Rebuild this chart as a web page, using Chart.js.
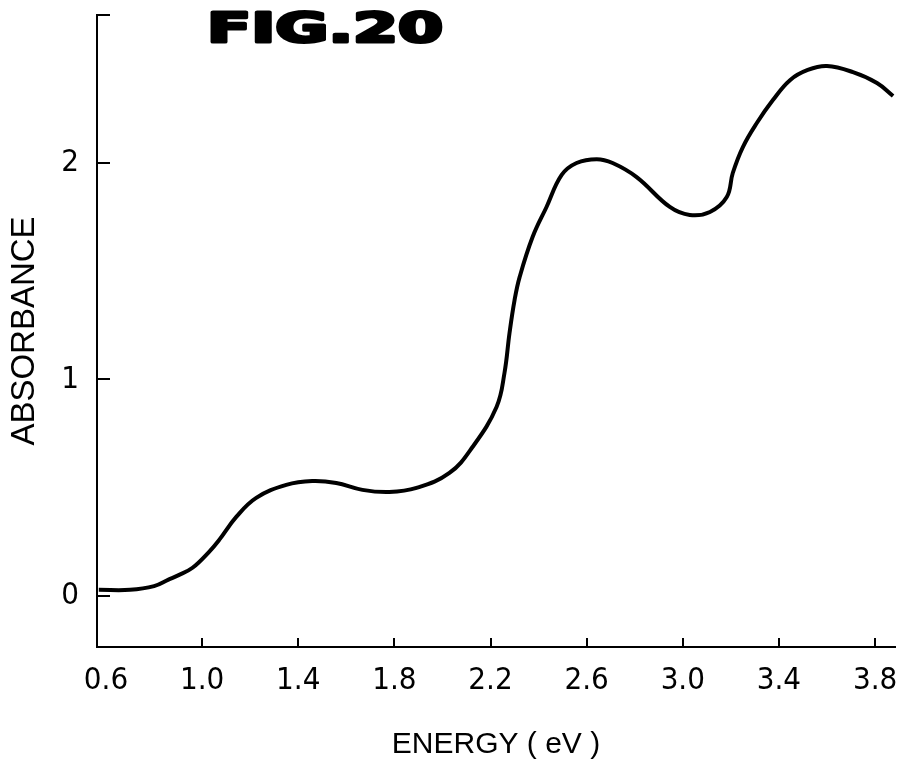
<!DOCTYPE html>
<html>
<head>
<meta charset="utf-8">
<script src="https://cdn.jsdelivr.net/npm/chart.js@4.4.1/dist/chart.umd.min.js"></script>
<style>
  html, body { margin: 0; padding: 0; background: #fff; }
</style>
</head>
<body>
<canvas id="grafico" width="904" height="765"></canvas>
<script>
// absorbance spectrum
const energia = [0.57, 0.70, 0.80, 0.86, 0.90, 0.96, 1.03, 1.071, 1.142, 1.225, 1.35, 1.458, 1.558, 1.667, 1.779, 1.892, 2.029,
                 2.125, 2.225, 2.258, 2.279, 2.30, 2.321, 2.375, 2.433, 2.496, 2.558, 2.642, 2.708, 2.808, 2.946,
                 3.029, 3.113, 3.183, 3.208, 3.25, 3.308, 3.375, 3.446, 3.52, 3.60, 3.708, 3.808, 3.875];
const absorbancia = [0.028, 0.028, 0.045, 0.075, 0.095, 0.130, 0.205, 0.259, 0.365, 0.453, 0.513, 0.531, 0.522, 0.490, 0.480, 0.499, 0.568,
                     0.688, 0.873, 1.030, 1.215, 1.367, 1.473, 1.658, 1.797, 1.945, 2.000, 2.018, 2.000, 1.935, 1.797,
                     1.760, 1.774, 1.843, 1.954, 2.074, 2.185, 2.291, 2.383, 2.430, 2.448, 2.420, 2.370, 2.310];
const xTicks = [0.6, 1.0, 1.4, 1.8, 2.2, 2.6, 3.0, 3.4, 3.8];
const yTicks = [0, 1, 2];
const xMin = 0.5625, xMax = 3.883;
const yMin = -0.236, yMax = 2.684;

const fonteTicks = "'Liberation Sans Narrow', 'DejaVu Sans Condensed', Roboto, sans-serif";
const fonteTitulos = "'Liberation Sans', Arial, sans-serif";

// "FIG.20" heading
const tituloFig = {
    id: 'tituloFig',
    afterDraw(chart) {
        const ctx = chart.ctx;
        ctx.save();
        ctx.font = "bold 40px 'DejaVu Sans', sans-serif";
        ctx.fillStyle = '#000';
        ctx.strokeStyle = '#000';
        ctx.lineWidth = 3;
        ctx.lineJoin = 'round';
        ctx.textBaseline = 'alphabetic';
        const w = ctx.measureText('FIG.20').width;
        ctx.translate(207, 42);
        ctx.scale(236 / w, 1);
        ctx.fillText('FIG.20', 0, 0);
        ctx.strokeText('FIG.20', 0, 0);
        ctx.restore();
    }
};

new Chart(document.getElementById('grafico').getContext('2d'), {
    type: 'line',
    data: {
        datasets: [{
            data: energia.map((e, i) => ({ x: e, y: absorbancia[i] })),
            borderColor: '#000',
            borderWidth: 4,
            pointRadius: 0,
            fill: false,
            tension: 0.4
        }]
    },
    options: {
        responsive: false,
        animation: false,
        devicePixelRatio: 1,
        layout: { padding: { left: 0, right: 9, top: 15, bottom: 0 } },
        plugins: { legend: { display: false }, tooltip: { enabled: false } },
        scales: {
            x: {
                type: 'linear',
                min: xMin,
                max: xMax,
                afterFit: s => { s.height = 765 - 647; s.paddingLeft = 0; s.paddingRight = 0; },
                afterBuildTicks: s => { s.ticks = xTicks.map(v => ({ value: v })); },
                grid: {
                    drawOnChartArea: false,
                    tickLength: -9,
                    lineWidth: 2,
                    color: c => (c.tick && c.tick.value === 0.6) ? 'rgba(0,0,0,0)' : '#000'
                },
                border: { color: '#000', width: 2 },
                ticks: {
                    color: '#000',
                    padding: 24,
                    maxRotation: 0,
                    autoSkip: false,
                    font: { family: fonteTicks, size: 31 },
                    callback: v => Number(v).toFixed(1)
                },
                title: {
                    display: true,
                    text: 'ENERGY ( eV )',
                    color: '#000',
                    font: { family: fonteTitulos, size: 30 },
                    padding: { top: 0, bottom: 2 }
                }
            },
            y: {
                type: 'linear',
                min: yMin,
                max: yMax,
                afterFit: s => { s.width = 97; s.paddingTop = 0; s.paddingBottom = 0; },
                afterBuildTicks: s => { s.ticks = yTicks.concat([yMax]).map(v => ({ value: v })); },
                grid: {
                    drawOnChartArea: false,
                    tickLength: -13,
                    lineWidth: 2,
                    color: '#000'
                },
                border: { color: '#000', width: 2 },
                ticks: {
                    color: '#000',
                    padding: 31,
                    autoSkip: false,
                    font: { family: fonteTicks, size: 31 },
                    callback: v => yTicks.includes(v) ? String(v) : ''
                },
                title: {
                    display: true,
                    text: 'ABSORBANCE',
                    color: '#000',
                    font: { family: fonteTitulos, size: 33 },
                    padding: { top: 5, bottom: 0 }
                }
            }
        }
    },
    plugins: [tituloFig]
});
</script>
</body>
</html>
